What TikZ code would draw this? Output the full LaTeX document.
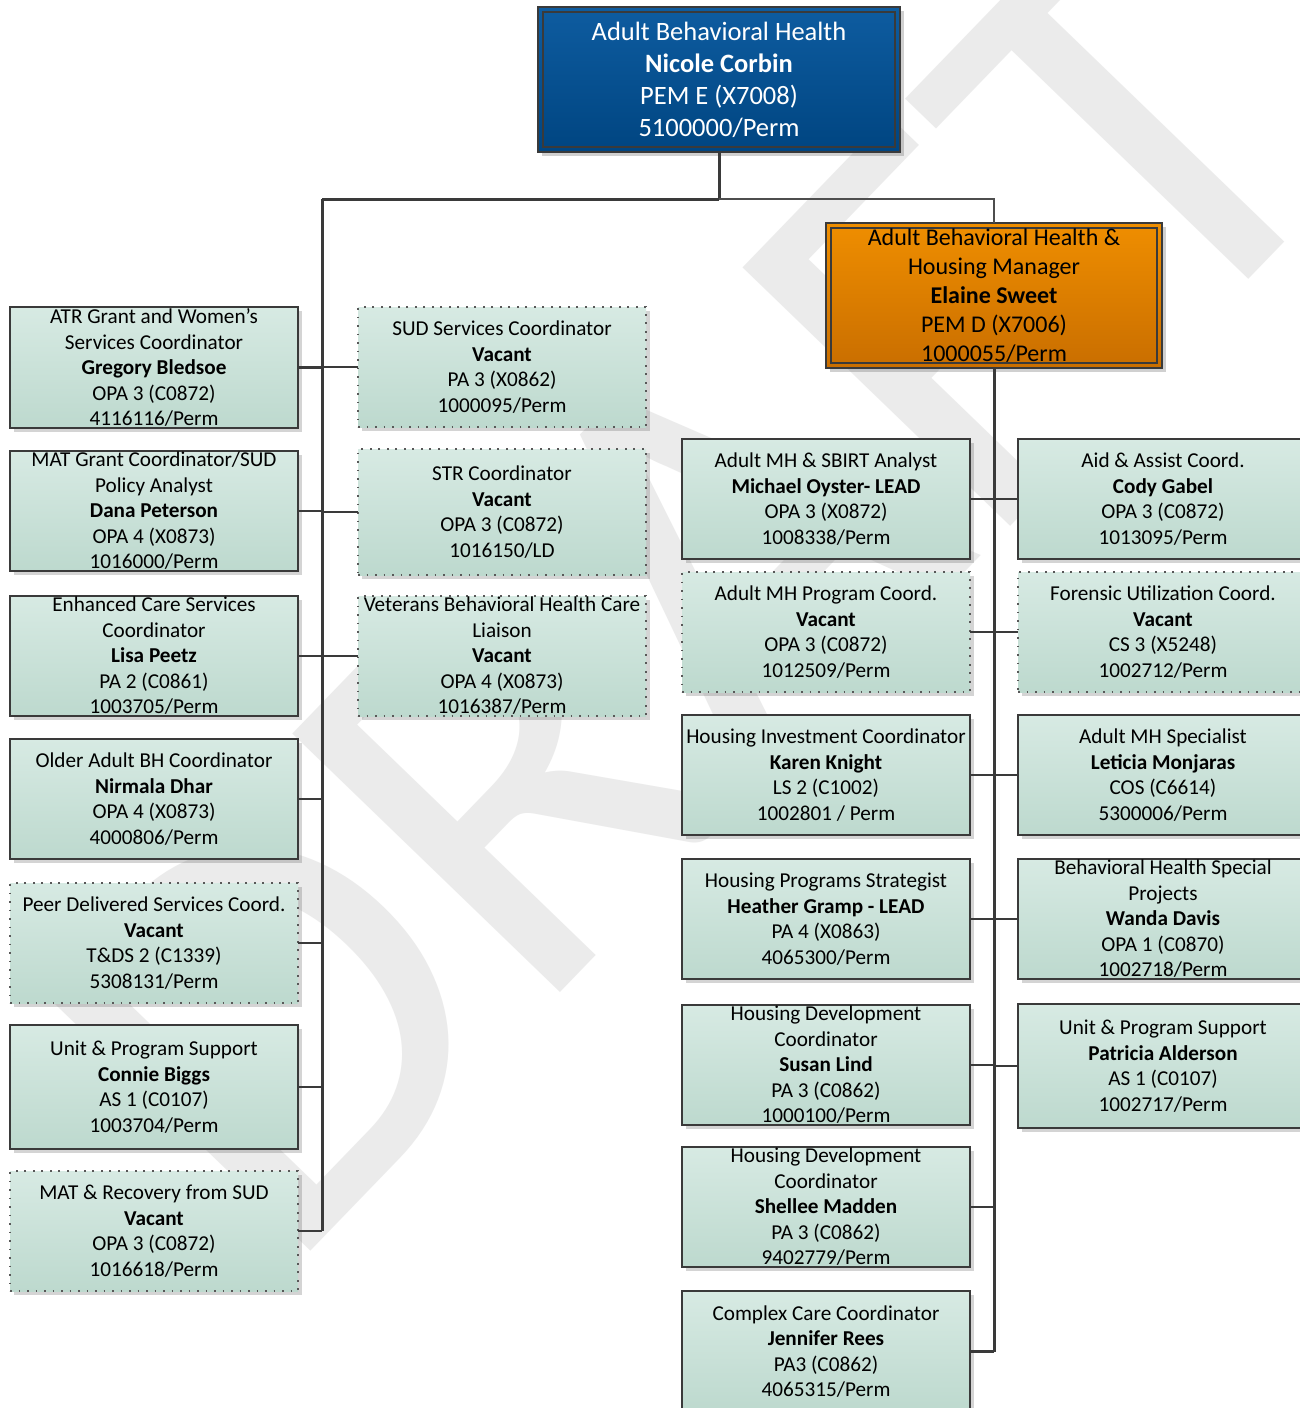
\documentclass[tikz,border=0pt]{standalone}
\usepackage{fontspec}
\setmainfont{Carlito}
\usetikzlibrary{shadows}
\definecolor{mintT}{HTML}{D7EAE3}
\definecolor{mintB}{HTML}{BDD9CE}
\definecolor{blueT}{HTML}{0E5CA0}
\definecolor{blueB}{HTML}{004581}
\definecolor{orT}{HTML}{EF8E00}
\definecolor{orB}{HTML}{C96E00}
\definecolor{edge}{HTML}{3A3A3A}
\definecolor{wmgray}{HTML}{EBEBEB}
\tikzset{
  basebox/.style={rectangle, inner sep=0pt, outer sep=0pt, align=center,
    top color=mintT, bottom color=mintB, text=black,
    font=\fontsize{21.2}{25.5}\selectfont,
    minimum width=288pt, minimum height=121pt,
    drop shadow={shadow xshift=3.5pt, shadow yshift=-3.5pt, opacity=0.28, fill=black!60}},
  solidbox/.style={basebox, draw=edge, line width=2pt},
  vacbox/.style={basebox, draw=edge!85, line width=1.7pt, dash pattern=on 1.7pt off 6.8pt},
  innerframe/.style={path picture={\draw[edge, line width=1.6pt]
      ([shift={(5pt,5pt)}]path picture bounding box.south west) rectangle
      ([shift={(-5pt,-5pt)}]path picture bounding box.north east);}},
  topbox/.style={rectangle, inner sep=0pt, outer sep=0pt, align=center,
    top color=blueT, bottom color=blueB, draw=edge, line width=2.5pt, text=white,
    font=\fontsize{26.5}{32}\selectfont, innerframe,
    drop shadow={shadow xshift=4pt, shadow yshift=-4pt, opacity=0.3, fill=black!60}},
  mgrbox/.style={rectangle, inner sep=0pt, outer sep=0pt, align=center,
    top color=orT, bottom color=orB, draw=edge, line width=2.5pt, text=black,
    font=\fontsize{24}{29}\selectfont, innerframe,
    drop shadow={shadow xshift=4pt, shadow yshift=-4pt, opacity=0.3, fill=black!60}},
  trunk/.style={draw=edge, line width=3pt},
  branch/.style={draw=edge, line width=2.2pt},
  thinlink/.style={draw=edge!90, line width=1.6pt},
  watermark/.style={text=wmgray, font=\fontsize{580}{580}\selectfont, inner sep=0pt}
}
\begin{document}
\begin{tikzpicture}[x=1pt, y=-1pt]
\useasboundingbox (0,0) rectangle (1300,1408);
\fill[white] (0,0) rectangle (1300,1408);
\node[watermark, rotate=46] (wm) at (690,590) {DRAFT};

% top
\node[topbox, minimum width=362pt, minimum height=145pt] (abh) at (719,79.5)
  {Adult Behavioral Health\\\textbf{Nicole Corbin}\\PEM E (X7008)\\5100000/Perm};
\node[mgrbox, minimum width=336pt, minimum height=145pt] (mgr) at (994,295.5)
  {Adult Behavioral Health \&\\Housing Manager\\\textbf{Elaine Sweet}\\PEM D (X7006)\\1000055/Perm};

% left column
\node[solidbox] (atr) at (154,367.5)
  {ATR Grant and Women’s\\Services Coordinator\\\textbf{Gregory Bledsoe}\\OPA 3 (C0872)\\4116116/Perm};
\node[solidbox, minimum height=120pt] (matg) at (154,511)
  {MAT Grant Coordinator/SUD\\Policy Analyst\\\textbf{Dana Peterson}\\OPA 4 (X0873)\\1016000/Perm};
\node[solidbox, minimum height=120pt] (enh) at (154,656)
  {Enhanced Care Services\\Coordinator\\\textbf{Lisa Peetz}\\PA 2 (C0861)\\1003705/Perm};
\node[solidbox, minimum height=120pt] (old) at (154,799)
  {Older Adult BH Coordinator\\\textbf{Nirmala Dhar}\\OPA 4 (X0873)\\4000806/Perm};
\node[vacbox, minimum height=120pt] (peer) at (154,943)
  {Peer Delivered Services Coord.\\\textbf{Vacant}\\T\&DS 2 (C1339)\\5308131/Perm};
\node[solidbox, minimum height=124pt] (ups) at (154,1087)
  {Unit \& Program Support\\\textbf{Connie Biggs}\\AS 1 (C0107)\\1003704/Perm};
\node[vacbox, minimum height=120pt] (matr) at (154,1231)
  {MAT \& Recovery from SUD\\\textbf{Vacant}\\OPA 3 (C0872)\\1016618/Perm};

% middle column
\node[vacbox, minimum height=120pt] (sud) at (502,367)
  {SUD Services Coordinator\\\textbf{Vacant}\\PA 3 (X0862)\\1000095/Perm};
\node[vacbox, minimum height=126pt] (str) at (502,512)
  {STR Coordinator\\\textbf{Vacant}\\OPA 3 (C0872)\\1016150/LD};
\node[vacbox, minimum height=120pt] (vet) at (502,656)
  {Veterans Behavioral Health Care\\Liaison\\\textbf{Vacant}\\OPA 4 (X0873)\\1016387/Perm};

% right column A
\node[solidbox, minimum height=120pt] (sbirt) at (826,499)
  {Adult MH \& SBIRT Analyst\\\textbf{Michael Oyster- LEAD}\\OPA 3 (X0872)\\1008338/Perm};
\node[vacbox, minimum height=120pt] (amhp) at (826,632)
  {Adult MH Program Coord.\\\textbf{Vacant}\\OPA 3 (C0872)\\1012509/Perm};
\node[solidbox, minimum height=120pt] (hic) at (826,775)
  {Housing Investment Coordinator\\\textbf{Karen Knight}\\LS 2 (C1002)\\1002801 / Perm};
\node[solidbox, minimum height=120pt] (hps) at (826,919)
  {Housing Programs Strategist\\\textbf{Heather Gramp - LEAD}\\PA 4 (X0863)\\4065300/Perm};
\node[solidbox, minimum height=120pt] (hd1) at (826,1065)
  {Housing Development\\Coordinator\\\textbf{Susan Lind}\\PA 3 (C0862)\\1000100/Perm};
\node[solidbox, minimum height=120pt] (hd2) at (826,1207)
  {Housing Development\\Coordinator\\\textbf{Shellee Madden}\\PA 3 (C0862)\\9402779/Perm};
\node[solidbox, minimum height=121pt] (ccc) at (826,1351.5)
  {Complex Care Coordinator\\\textbf{Jennifer Rees}\\PA3 (C0862)\\4065315/Perm};

% right column B
\node[solidbox, minimum width=290pt, minimum height=120pt] (aid) at (1163,499)
  {Aid \& Assist Coord.\\\textbf{Cody Gabel}\\OPA 3 (C0872)\\1013095/Perm};
\node[vacbox, minimum width=290pt, minimum height=120pt] (fuc) at (1163,632)
  {Forensic Utilization Coord.\\\textbf{Vacant}\\CS 3 (X5248)\\1002712/Perm};
\node[solidbox, minimum width=290pt, minimum height=120pt] (amhs) at (1163,775)
  {Adult MH Specialist\\\textbf{Leticia Monjaras}\\COS (C6614)\\5300006/Perm};
\node[solidbox, minimum width=290pt, minimum height=120pt] (bhsp) at (1163,919)
  {Behavioral Health Special\\Projects\\\textbf{Wanda Davis}\\OPA 1 (C0870)\\1002718/Perm};
\node[solidbox, minimum width=290pt, minimum height=124pt] (upsb) at (1163,1066)
  {Unit \& Program Support\\\textbf{Patricia Alderson}\\AS 1 (C0107)\\1002717/Perm};

% connectors
\coordinate (lt) at (322,199);
\coordinate (rt) at (994,199);
\draw[trunk] (abh.south) -- (abh.south |- lt);
\draw[trunk] (abh.south |- lt) -- (lt);
\draw[thinlink] (abh.south |- lt) -- (rt) -- (mgr.north);
\draw[trunk] (lt) -- (lt |- matr.east);
\foreach \n in {atr,matg,enh,old,peer,ups,matr}
  \draw[branch] (\n.east) -- (\n.east -| lt);
\foreach \n in {sud,str,vet}
  \draw[branch] (\n.west) -- (\n.west -| lt);
\draw[trunk] (mgr.south) -- (mgr.south |- ccc.east);
\foreach \n in {sbirt,amhp,hic,hps,hd1,hd2,ccc}
  \draw[branch] (\n.east) -- (\n.east -| mgr.south);
\foreach \n in {aid,fuc,amhs,bhsp,upsb}
  \draw[branch] (\n.west) -- (\n.west -| mgr.south);
\end{tikzpicture}
\end{document}
